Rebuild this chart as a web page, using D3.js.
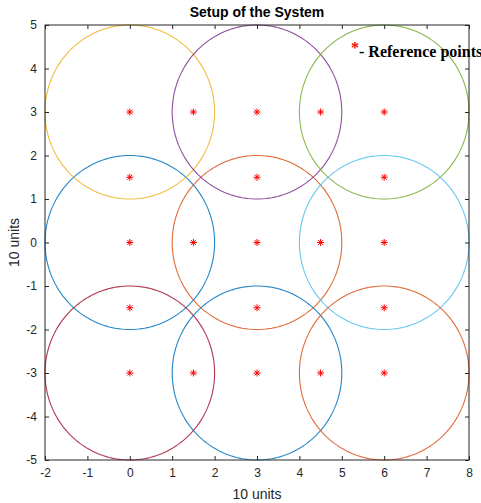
<!DOCTYPE html>
<html>
<head>
  <meta charset="utf-8">
  <title>Setup of the System</title>
  <style>
    body { margin: 0; background: #fff; }
    text { font-family: "Liberation Sans", Arial, sans-serif; }
  </style>
</head>
<body>
  <svg width="481" height="503"></svg>
  <script src="https://d3js.org/d3.v7.min.js"></script>
  <script>

  // circle centres (drawing order) and their colours
  var circleX = [0, 3, 0, 3, 6, 6, 0, 3, 6];
  var circleY = [0, 0, 3, 3, 3, 0, -3, -3, -3];
  var circleColors = ["#0072BD", "#D95319", "#EDB120", "#7E2F8E", "#77AC30",
                      "#4DBEEE", "#A2142F", "#0072BD", "#D95319"];
  var radius = 2;

  // reference points
  var refX = [0, 1.5, 3, 4.5, 6, 0, 3, 6, 0, 1.5, 3, 4.5, 6, 0, 3, 6, 0, 1.5, 3, 4.5, 6];
  var refY = [3, 3, 3, 3, 3, 1.5, 1.5, 1.5, 0, 0, 0, 0, 0, -1.5, -1.5, -1.5, -3, -3, -3, -3, -3];

  var xTicks = [-2, -1, 0, 1, 2, 3, 4, 5, 6, 7, 8];
  var yTicks = [-5, -4, -3, -2, -1, 0, 1, 2, 3, 4, 5];

  var pLeft = 45, pRight = 469, pTop = 25, pBottom = 460;

  var svg = d3.select("svg");
  var x = d3.scaleLinear().domain([-2, 8]).range([pLeft, pRight]);
  var y = d3.scaleLinear().domain([-5, 5]).range([pBottom, pTop]);
  var fmt = function(d) { return String(d); };

  var plot = svg.append("g");

  // circles
  var t = d3.range(0, 361, 2).map(function(a) { return a * Math.PI / 180; });
  var line = d3.line().x(function(d) { return x(d[0]); }).y(function(d) { return y(d[1]); });
  circleX.forEach(function(cx, i) {
    var pts = t.map(function(a) { return [cx + radius * Math.cos(a), circleY[i] + radius * Math.sin(a)]; });
    plot.append("path")
      .attr("d", line(pts))
      .attr("fill", "none")
      .attr("stroke", circleColors[i])
      .attr("stroke-opacity", 0.85)
      .attr("stroke-width", 1.1);
  });

  // asterisk markers
  function star(g, s) {
    [0, 45, 90, 135].forEach(function(a) {
      var r = a * Math.PI / 180;
      g.append("line")
        .attr("x1", -s * Math.cos(r)).attr("y1", -s * Math.sin(r))
        .attr("x2", s * Math.cos(r)).attr("y2", s * Math.sin(r))
        .attr("stroke", "#ff0000").attr("stroke-width", 1);
    });
  }
  refX.forEach(function(px, i) {
    var g = plot.append("g").attr("transform", "translate(" + x(px) + "," + y(refY[i]) + ")");
    star(g, 3.5);
  });

  // axes box
  svg.append("rect")
    .attr("x", pLeft).attr("y", pTop)
    .attr("width", pRight - pLeft).attr("height", pBottom - pTop)
    .attr("fill", "none").attr("stroke", "#262626").attr("stroke-width", 1);

  var xb = svg.append("g").attr("transform", "translate(0," + pBottom + ")")
    .call(d3.axisBottom(x).tickValues(xTicks).tickSizeInner(-4).tickSizeOuter(0).tickPadding(8).tickFormat(fmt));
  var xt = svg.append("g").attr("transform", "translate(0," + pTop + ")")
    .call(d3.axisTop(x).tickValues(xTicks).tickSizeInner(-4).tickSizeOuter(0).tickFormat(""));
  var yl = svg.append("g").attr("transform", "translate(" + pLeft + ",0)")
    .call(d3.axisLeft(y).tickValues(yTicks).tickSizeInner(-4).tickSizeOuter(0).tickPadding(8).tickFormat(fmt));
  var yr = svg.append("g").attr("transform", "translate(" + pRight + ",0)")
    .call(d3.axisRight(y).tickValues(yTicks).tickSizeInner(-4).tickSizeOuter(0).tickFormat(""));

  [xb, xt, yl, yr].forEach(function(a) {
    a.select(".domain").remove();
    a.selectAll("line").attr("stroke", "#262626");
    a.selectAll("text").attr("fill", "#262626")
      .style("font-family", "'Liberation Sans', Arial, sans-serif").style("font-size", "12px");
  });

  // title and labels
  svg.append("text")
    .attr("x", (pLeft + pRight) / 2).attr("y", 17)
    .attr("text-anchor", "middle")
    .style("font-weight", "bold").style("font-size", "14px")
    .attr("fill", "#000")
    .text("Setup of the System");

  svg.append("text")
    .attr("x", (pLeft + pRight) / 2).attr("y", 499)
    .attr("text-anchor", "middle")
    .style("font-size", "14px").attr("fill", "#262626")
    .text("10 units");

  svg.append("text")
    .attr("transform", "translate(19," + (pTop + pBottom) / 2 + ") rotate(-90)")
    .attr("text-anchor", "middle")
    .style("font-size", "14px").attr("fill", "#262626")
    .text("10 units");

  // annotation
  var note = svg.append("text")
    .attr("x", 351).attr("y", 57)
    .style("font-family", "'Liberation Serif', 'Times New Roman', serif")
    .style("font-weight", "bold").style("font-size", "16px");
  note.append("tspan").attr("fill", "#ff0000").attr("dy", -4).text("*");
  note.append("tspan").attr("fill", "#000").attr("dy", 4).text("- Reference points");

  </script>
</body>
</html>
